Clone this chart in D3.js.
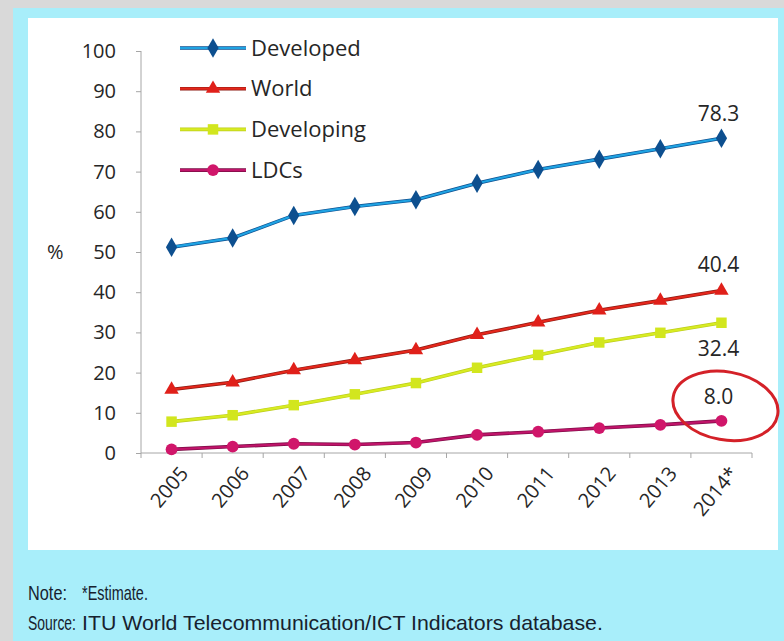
<!DOCTYPE html>
<html>
<head>
<meta charset="utf-8">
<script src="https://cdn.jsdelivr.net/npm/d3@7"></script>
<style>
  body { margin: 0; background: #d9d9d9; }
  svg { display: block; }
  .tick text { font-family: "Open Sans", "Liberation Sans", sans-serif; font-size: 20px; fill: #262626; }
</style>
</head>
<body>
<div id="chart"></div>
<script>
const years = ["2005", "2006", "2007", "2008", "2009", "2010", "2011", "2012", "2013", "2014*"];
const developed = [51.2, 53.5, 59.1, 61.3, 63.0, 67.1, 70.5, 73.1, 75.7, 78.3];
const world = [15.8, 17.6, 20.6, 23.1, 25.6, 29.4, 32.5, 35.5, 37.9, 40.4];
const developing = [7.8, 9.4, 11.9, 14.6, 17.4, 21.2, 24.4, 27.5, 29.9, 32.4];
const ldcs = [0.9, 1.6, 2.3, 2.1, 2.6, 4.5, 5.3, 6.2, 7.0, 8.0];
const yTicks = [0, 10, 20, 30, 40, 50, 60, 70, 80, 90, 100];

const series = [
  {name: "Developed", values: developed, line: "#1fa3e3", edge: "#0d4f8f", mark: "#0d4f8f", shape: d3.symbolDiamond, label: "78.3"},
  {name: "World", values: world, line: "#e5271c", edge: "#8c1a12", mark: "#e0201a", shape: d3.symbolTriangle, label: "40.4"},
  {name: "Developing", values: developing, line: "#d8ec22", edge: "#bccc1c", mark: "#d2e61e", shape: d3.symbolSquare, label: "32.4"},
  {name: "LDCs", values: ldcs, line: "#c0146a", edge: "#7a0c44", mark: "#d0166a", shape: d3.symbolCircle, label: "8.0"}
];

const FONT = "\"Open Sans\", \"Liberation Sans\", sans-serif";
const W = 784, H = 641;
const svg = d3.select("#chart").append("svg")
  .attr("width", W)
  .attr("height", H);

// frame: grey page, cyan box, white chart panel
svg.append("rect").attr("x", 13).attr("y", 8).attr("width", W - 13).attr("height", H - 8).attr("fill", "#a8eefa");
svg.append("rect").attr("x", 28).attr("y", 18).attr("width", 750).attr("height", 532).attr("fill", "#ffffff");

const x = d3.scaleBand().domain(years).range([141, 752]);
const y = d3.scaleLinear().domain([0, 100]).range([453, 51]);

// y axis
const gy = svg.append("g").attr("transform", "translate(141,0)")
  .call(d3.axisLeft(y).tickValues(yTicks).tickSize(5).tickPadding(20));
gy.select(".domain").attr("stroke", "#a6a6a6").attr("d", "M0," + y(100) + "V" + y(0));
gy.selectAll(".tick line").attr("stroke", "#a6a6a6");

svg.append("text")
  .attr("x", 47).attr("y", y(50))
  .attr("dy", "0.35em")
  .style("font-family", FONT)
  .style("font-size", "20px")
  .attr("fill", "#262626")
  .text("%");

// x axis with ticks at category boundaries
const gx = svg.append("g").attr("transform", "translate(0," + y(0) + ")");
gx.append("line").attr("x1", 141).attr("x2", 752).attr("stroke", "#a6a6a6");
gx.selectAll(".xt").data(years.concat(["end"])).enter().append("line")
  .attr("class", "xt")
  .attr("x1", (d, i) => 141 + i * x.step())
  .attr("x2", (d, i) => 141 + i * x.step())
  .attr("y1", 0).attr("y2", 5)
  .attr("stroke", "#a6a6a6");
gx.selectAll(".xl").data(years).enter().append("text")
  .attr("class", "xl")
  .attr("transform", d => "translate(" + (x(d) + x.bandwidth() / 2 + 7) + ",12) rotate(-50)")
  .attr("text-anchor", "end")
  .attr("dy", "0.7em")
  .style("font-family", FONT)
  .style("font-size", "20px")
  .attr("fill", "#262626")
  .text(d => d);

const cx = i => x(years[i]) + x.bandwidth() / 2;
const line = d3.line().x((d, i) => cx(i)).y(d => y(d));

series.forEach(s => {
  const g = svg.append("g");
  g.append("path").attr("d", line(s.values)).attr("fill", "none")
    .attr("stroke", s.edge).attr("stroke-width", 3.6);
  g.append("path").attr("d", line(s.values)).attr("fill", "none")
    .attr("stroke", s.line).attr("stroke-width", 2.2);
  g.selectAll("path.m").data(s.values).enter().append("path")
    .attr("class", "m")
    .attr("transform", (d, i) => "translate(" + cx(i) + "," + y(d) + ")")
    .attr("d", d3.symbol().type(s.shape).size(s.shape === d3.symbolTriangle ? 90 : 110))
    .attr("fill", s.mark);
});

// end labels
const labelOffset = {"Developed": -25, "World": -26, "Developing": 26, "LDCs": -24};
series.forEach(s => {
  const last = s.values.length - 1;
  svg.append("text")
    .attr("x", cx(last) - 3)
    .attr("y", y(s.values[last]) + labelOffset[s.name])
    .attr("text-anchor", "middle")
    .attr("dy", "0.35em")
    .style("font-family", FONT)
    .style("font-size", "21px")
    .attr("fill", "#262626")
    .text(s.label);
});

// red ring around LDC estimate
const ex = cx(9) + 4, ey = y(ldcs[9]) - 15;
svg.append("ellipse")
  .attr("cx", ex).attr("cy", ey)
  .attr("rx", 53).attr("ry", 34)
  .attr("transform", "rotate(10," + ex + "," + ey + ")")
  .attr("fill", "none").attr("stroke", "#d42128").attr("stroke-width", 3);

// legend
const legend = svg.append("g");
series.forEach((s, i) => {
  const ly = 48 + i * 40.7;
  legend.append("line").attr("x1", 180).attr("x2", 246).attr("y1", ly).attr("y2", ly)
    .attr("stroke", s.edge).attr("stroke-width", 3.6);
  legend.append("line").attr("x1", 180).attr("x2", 246).attr("y1", ly).attr("y2", ly)
    .attr("stroke", s.line).attr("stroke-width", 2.2);
  legend.append("path")
    .attr("transform", "translate(213," + ly + ")")
    .attr("d", d3.symbol().type(s.shape).size(s.shape === d3.symbolTriangle ? 90 : 110))
    .attr("fill", s.mark);
  legend.append("text").attr("x", 251).attr("y", ly).attr("dy", "0.35em")
    .style("font-family", FONT)
    .style("font-size", "22px")
    .attr("fill", "#262626")
    .text(s.name);
});

// footnotes: condensed look made by squeezing each text to the width seen in the picture
const notes = [
  {text: "Note:", x: 28, y: 593, w: 39},
  {text: "*Estimate.", x: 82, y: 593, w: 66},
  {text: "Source:", x: 28, y: 623, w: 48},
  {text: "ITU World Telecommunication/ICT Indicators database.", x: 82, y: 623, w: 521}
];
svg.selectAll(".note").data(notes).enter().append("text")
  .attr("class", "note")
  .attr("dy", "0.35em")
  .style("font-family", "\"Liberation Sans\", sans-serif")
  .style("font-size", "20px")
  .attr("fill", "#17212e")
  .text(d => d.text)
  .attr("transform", function (d) {
    const natural = this.getComputedTextLength();
    return "translate(" + d.x + "," + d.y + ") scale(" + (d.w / natural) + ",1)";
  });
</script>
</body>
</html>
